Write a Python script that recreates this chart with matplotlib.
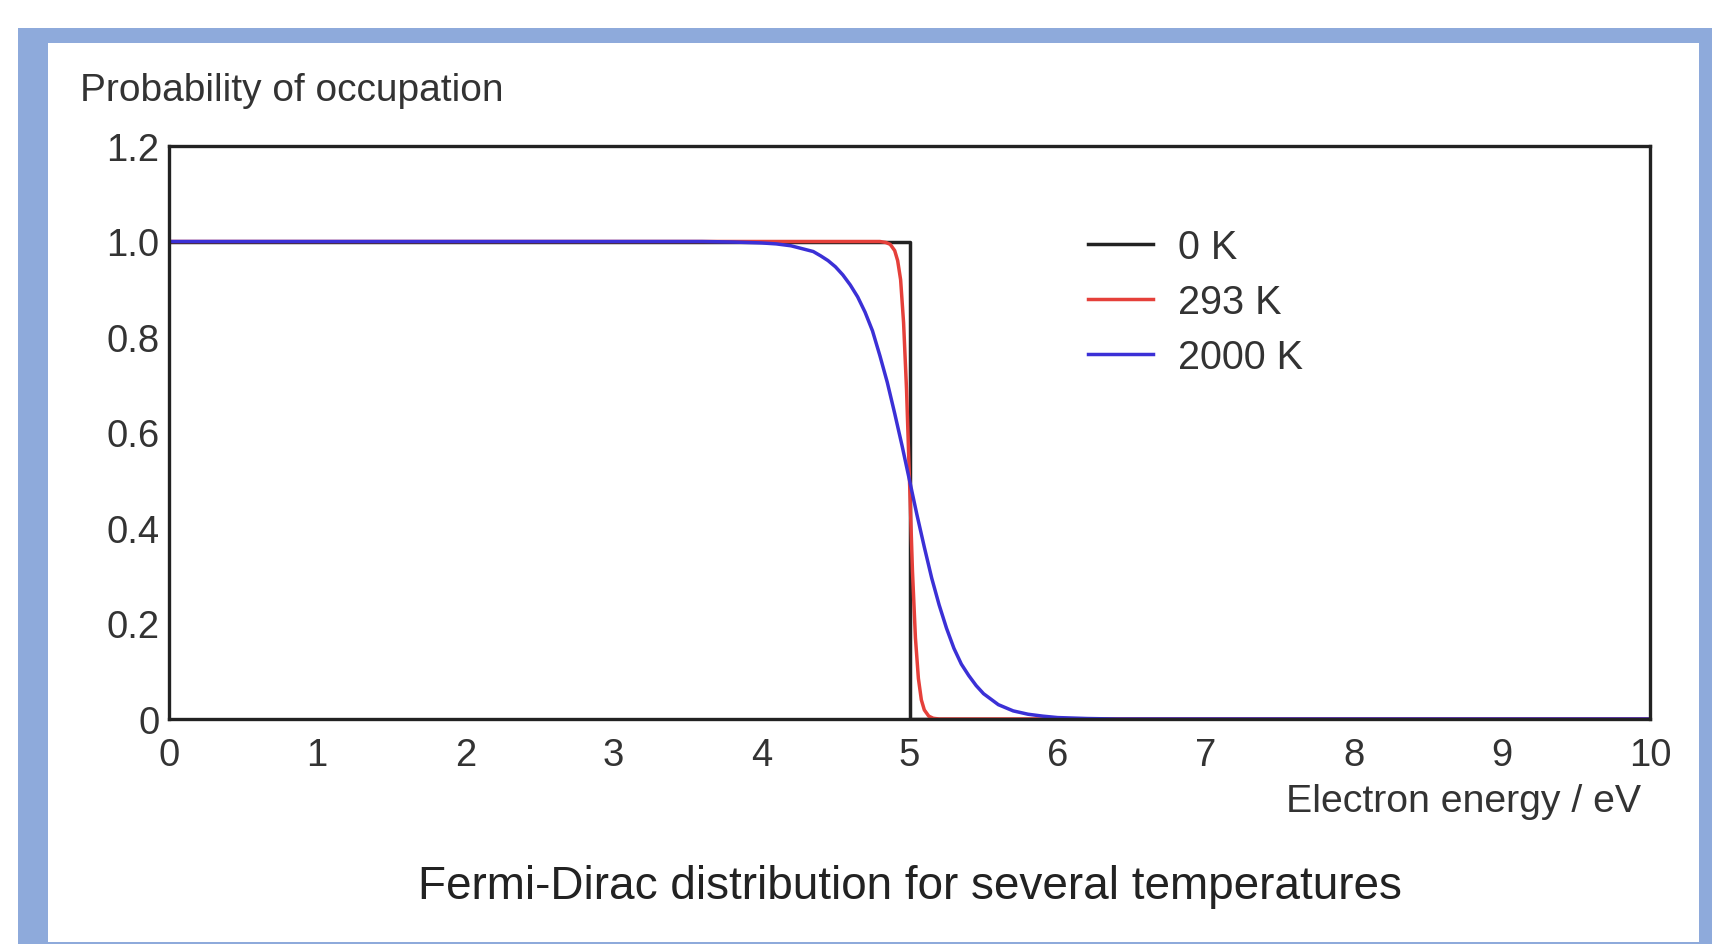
import matplotlib
matplotlib.use("Agg")
import matplotlib.pyplot as plt
from matplotlib.patches import Rectangle

plt.rcParams['font.family'] = ['Liberation Sans', 'DejaVu Sans']

# Electron energy (eV) and occupation probability for each temperature
energy_0k = [0.0, 5.0, 5.0, 10.0]
occ_0k = [1.0, 1.0, 0.0, 0.0]

energy_293k = [0.0, 4.80, 4.84, 4.87, 4.90, 4.92, 4.94, 4.96, 4.98, 5.00,
               5.02, 5.04, 5.06, 5.08, 5.10, 5.13, 5.16, 5.20, 10.0]
occ_293k = [1.0, 1.0, 0.998, 0.994, 0.981, 0.96, 0.92, 0.83, 0.69, 0.50,
            0.31, 0.17, 0.085, 0.04, 0.019, 0.006, 0.0015, 0.0, 0.0]

energy_2000k = [0.0, 3.6, 3.8, 3.9, 4.0, 4.1, 4.2, 4.3, 4.35, 4.4, 4.45,
                4.5, 4.55, 4.6, 4.65, 4.7, 4.75, 4.8, 4.85, 4.9, 4.95,
                5.0, 5.05, 5.1, 5.15, 5.2, 5.25, 5.3, 5.35, 5.4, 5.45,
                5.5, 5.6, 5.7, 5.8, 5.9, 6.0, 6.2, 6.4, 10.0]
occ_2000k = [1.0, 1.0, 0.999, 0.998, 0.997, 0.995, 0.991, 0.983, 0.979,
             0.970, 0.960, 0.947, 0.930, 0.909, 0.884, 0.852, 0.813, 0.761,
             0.705, 0.640, 0.572, 0.500, 0.428, 0.360, 0.295, 0.239, 0.190,
             0.148, 0.115, 0.091, 0.070, 0.053, 0.030, 0.017, 0.010, 0.006,
             0.003, 0.001, 0.0, 0.0]

labels = ["0 K", "293 K", "2000 K"]
colors = ["#222222", "#e5403a", "#3b30d6"]

y_ticks = [0, 0.2, 0.4, 0.6, 0.8, 1.0, 1.2]
y_tick_labels = ["0", "0.2", "0.4", "0.6", "0.8", "1.0", "1.2"]
x_ticks = list(range(0, 11))

W, H = 1712, 945
fig = plt.figure(figsize=(W / 100, H / 100), dpi=100)
fig.patch.set_facecolor("white")

# light blue frame around the panel
fig.add_artist(Rectangle((18 / W, 0), 1 - 18 / W, 1 - 29 / H,
                         transform=fig.transFigure, facecolor="#8eaadb",
                         edgecolor="none", zorder=-2))
fig.add_artist(Rectangle((48 / W, 2 / H), (1699 - 48) / W, (943 - 44) / H,
                         transform=fig.transFigure, facecolor="white",
                         edgecolor="none", zorder=-1))

ax = fig.add_axes([169 / W, 1 - 720 / H, (1650 - 169) / W, (720 - 147) / H])

series = [(energy_0k, occ_0k), (energy_293k, occ_293k), (energy_2000k, occ_2000k)]
for (e, f), lab, c in zip(series, labels, colors):
    ax.plot(e, f, color=c, lw=2.5, label=lab)

ax.set_xlim(0, 10)
ax.set_ylim(0, 1.2)
ax.set_xticks(x_ticks)
ax.set_yticks(y_ticks)
ax.set_yticklabels(y_tick_labels)
text_color = "#333333"
ax.tick_params(axis="both", length=0, labelsize=27.5, colors=text_color)
ax.tick_params(axis="x", pad=13)
ax.tick_params(axis="y", pad=7)
for s in ax.spines.values():
    s.set_linewidth(2.4)
    s.set_color("#222222")

leg = ax.legend(loc="upper left", bbox_to_anchor=(1088 / W, 1 - 229 / H),
                bbox_transform=fig.transFigure, frameon=False, fontsize=28.5,
                handlelength=1.65, handletextpad=0.63, labelspacing=0.43,
                borderpad=0, borderaxespad=0)
for t in leg.get_texts():
    t.set_color(text_color)

fig.text(80 / W, 1 - 91 / H, "Probability of occupation", ha="left",
         va="center", fontsize=28, color=text_color)
fig.text(1641 / W, 1 - 802 / H, "Electron energy / eV", ha="right",
         va="center", fontsize=28.3, color=text_color)
fig.text(910 / W, 1 - 887 / H, "Fermi-Dirac distribution for several temperatures",
         ha="center", va="center", fontsize=33, color="#222222")

fig.savefig("out.png", dpi=100)
